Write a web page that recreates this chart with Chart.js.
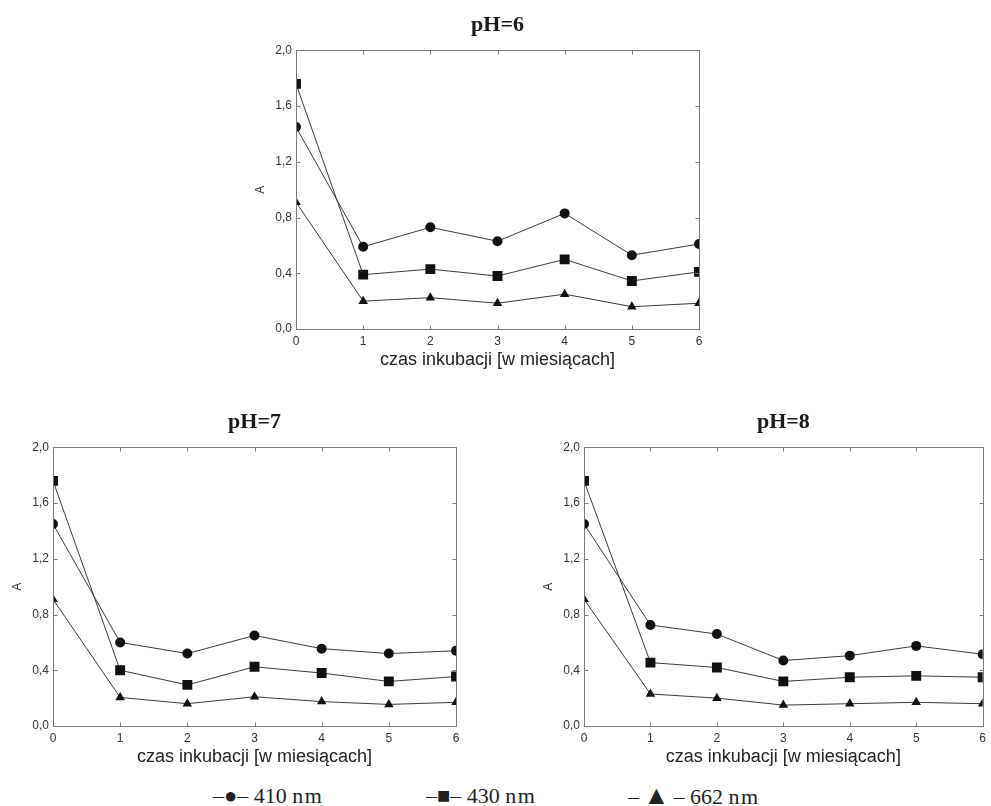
<!DOCTYPE html>
<html>
<head>
<meta charset="utf-8">
<script src="https://cdn.jsdelivr.net/npm/chart.js@4"></script>
<style>
  html, body { margin: 0; padding: 0; background: #fff; }
  body { width: 991px; height: 806px; position: relative; overflow: hidden; }
  canvas { position: absolute; }
  .lg { position: absolute; top: 783px; font: 22px "Liberation Serif", serif; color: #222; white-space: nowrap; line-height: 26px; }
  .lg .u { letter-spacing: 1.5px; }
  .lg .big { font-size: 26px; }
</style>
</head>
<body>
<canvas id="ph6" width="476" height="380" style="left:243px;top:0px"></canvas>
<canvas id="ph7" width="476" height="380" style="left:0px;top:397px"></canvas>
<canvas id="ph8" width="460" height="380" style="left:531px;top:397px"></canvas>
<div class="lg" style="left:213px">–●– 410 <span class="u">nm</span></div>
<div class="lg" style="left:426px">–■– 430 <span class="u">nm</span></div>
<div class="lg" style="left:628px">–&thinsp;<span class="big">▲</span>&thinsp;– 662 <span class="u">nm</span></div>
<script>
// time axis (months) and wavelengths
const MONTHS = [0, 1, 2, 3, 4, 5, 6];
const SERIES = ['410 nm', '430 nm', '662 nm'];
const MARKERS = ['circle', 'rect', 'triangle'];

const PH6_410 = [1.45, 0.59, 0.73, 0.63, 0.83, 0.53, 0.61];
const PH6_430 = [1.76, 0.39, 0.43, 0.38, 0.50, 0.345, 0.41];
const PH6_662 = [0.91, 0.20, 0.225, 0.185, 0.25, 0.16, 0.185];

const PH7_410 = [1.45, 0.60, 0.52, 0.65, 0.555, 0.52, 0.54];
const PH7_430 = [1.76, 0.40, 0.295, 0.425, 0.38, 0.32, 0.355];
const PH7_662 = [0.91, 0.205, 0.16, 0.21, 0.175, 0.155, 0.17];

const PH8_410 = [1.45, 0.725, 0.66, 0.47, 0.505, 0.575, 0.515];
const PH8_430 = [1.76, 0.455, 0.42, 0.32, 0.35, 0.36, 0.35];
const PH8_662 = [0.91, 0.23, 0.20, 0.15, 0.16, 0.17, 0.16];

const Y_MIN = 0, Y_MAX = 2, Y_STEP = 0.4;

// frame round the plot with small inward ticks
const framePlugin = {
    id: 'frame',
    afterDraw(chart) {
        const { ctx, chartArea: a, scales } = chart;
        const l = Math.round(a.left) + 0.5, r = Math.round(a.right) + 0.5;
        const t = Math.round(a.top) + 0.5, b = Math.round(a.bottom) + 0.5;
        ctx.save();
        ctx.strokeStyle = '#7a7a7a';
        ctx.lineWidth = 1;
        ctx.strokeRect(l, t, r - l, b - t);
        ctx.beginPath();
        scales.y.ticks.forEach(tk => {
            const py = Math.round(scales.y.getPixelForValue(tk.value)) + 0.5;
            ctx.moveTo(l, py); ctx.lineTo(l + 4, py);
            ctx.moveTo(r, py); ctx.lineTo(r - 4, py);
        });
        scales.x.ticks.forEach((tk, i) => {
            const px = Math.round(scales.x.getPixelForTick(i)) + 0.5;
            ctx.moveTo(px, t); ctx.lineTo(px, t + 4);
            ctx.moveTo(px, b); ctx.lineTo(px, b - 4);
        });
        ctx.stroke();
        ctx.restore();
    }
};

function makeChart(id, title, values, padRight) {
    const datasets = values.map((v, i) => ({
        label: SERIES[i],
        data: v,
        borderColor: '#3a3a3a',
        borderWidth: 1,
        backgroundColor: '#111',
        pointBackgroundColor: '#111',
        pointBorderColor: '#111',
        pointBorderWidth: 0,
        pointStyle: MARKERS[i],
        pointRadius: MARKERS[i] === 'rect' ? 7 : (MARKERS[i] === 'triangle' ? 5.5 : 5),
        tension: 0,
        clip: 0
    }));
    return new Chart(document.getElementById(id), {
        type: 'line',
        data: { labels: MONTHS, datasets },
        options: {
            responsive: false,
            animation: false,
            events: [],
            layout: { padding: { left: 0, right: padRight, top: 0, bottom: 0 } },
            plugins: {
                legend: { display: false },
                tooltip: { enabled: false },
                title: {
                    display: true,
                    text: title,
                    fullSize: false,
                    color: '#1a1a1a',
                    font: { family: 'Liberation Serif', size: 22, weight: 'bold' },
                    padding: { top: 12, bottom: 12 }
                }
            },
            scales: {
                x: {
                    type: 'category',
                    offset: false,
                    grid: { display: false, drawTicks: false },
                    border: { display: false },
                    ticks: { color: '#333', padding: 5, font: { family: 'Liberation Sans', size: 12 } },
                    title: {
                        display: true,
                        text: 'czas inkubacji [w miesiącach]',
                        color: '#222',
                        font: { family: 'Liberation Sans', size: 18 },
                        padding: { top: 0, bottom: 9 }
                    },
                    afterFit: s => { s.height = 51; }
                },
                y: {
                    min: Y_MIN,
                    max: Y_MAX,
                    grid: { display: false, drawTicks: false },
                    border: { display: false },
                    ticks: {
                        stepSize: Y_STEP,
                        color: '#333',
                        padding: 4,
                        font: { family: 'Liberation Sans', size: 12 },
                        callback: v => v.toFixed(1).replace('.', ',')
                    },
                    title: {
                        display: true,
                        text: 'A',
                        color: '#333',
                        font: { family: 'Liberation Sans', size: 12 },
                        padding: { top: 10, bottom: 0 }
                    },
                    afterFit: s => { s.width = 53; }
                }
            }
        },
        plugins: [framePlugin]
    });
}

makeChart('ph6', 'pH=6', [PH6_410, PH6_430, PH6_662], 20);
makeChart('ph7', 'pH=7', [PH7_410, PH7_430, PH7_662], 20);
makeChart('ph8', 'pH=8', [PH8_410, PH8_430, PH8_662], 6);
</script>
</body>
</html>
